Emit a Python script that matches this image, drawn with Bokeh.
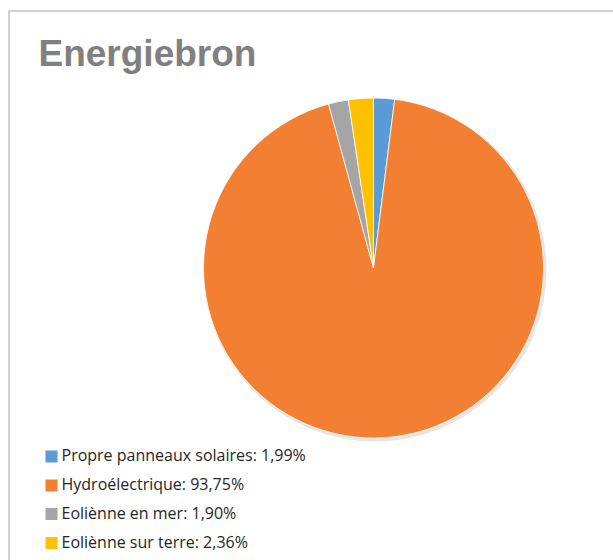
import math
from bokeh.plotting import figure
from bokeh.models import Range1d
from bokeh.core.properties import value
from bokeh.embed import file_html
from bokeh.resources import INLINE

title = "Energiebron"
categories = ["Propre panneaux solaires", "Hydro\u00e9lectrique", "Eoli\u00e8nne en mer", "Eoli\u00e8nne sur terre"]
values = [1.99, 93.75, 1.90, 2.36]
colors = ["#5B9BD5", "#F27F32", "#A5A5A5", "#FFC000"]

W, H = 613, 560
p = figure(width=W, height=H, output_backend="svg", toolbar_location=None,
           x_range=Range1d(0, W), y_range=Range1d(0, H), min_border=0)
p.axis.visible = False
p.grid.visible = False
p.outline_line_color = None
p.background_fill_color = "white"
p.border_fill_color = "white"

# chart border (right/bottom sides fall outside the window)
p.quad(left=8.5, right=W + 50, top=H - 10.5, bottom=-50, fill_color=None,
       line_color="#A0A0A0", line_width=1)

# pie
cx, cy, r = 373, H - 267.5, 170
total = sum(values)
starts, ends = [], []
a = math.pi / 2
for v in values:
    starts.append(a)
    a -= v / total * 2 * math.pi
    ends.append(a)

p.circle(x=cx + 1.5, y=cy - 2, radius=r + 1.5, radius_units="screen",
         fill_color="black", fill_alpha=0.10, line_color=None)
p.wedge(x=cx, y=cy, radius=r, radius_units="screen",
        start_angle=ends, end_angle=starts, direction="anticlock",
        fill_color=colors, line_color="white", line_width=0.8)

# title
p.text(x=[38], y=[H - 53], text=[title], text_font=value("Liberation Sans"),
       text_font_style="bold", text_font_size="37px", text_color="#808080",
       text_baseline="alphabetic", text_align="left")

# legend
row_y = [H - 456, H - 485, H - 513.5, H - 542.5]
labels = [f"{c}: {v:.2f}%".replace(".", ",") for c, v in zip(categories, values)]
p.rect(x=[51] * 4, y=row_y, width=12, height=12, width_units="screen",
       height_units="screen", fill_color=colors, line_color=None)
p.text(x=[61] * 4, y=[y + 1.5 for y in row_y], text=labels,
       text_font=value("Open Sans"), text_font_size="16px", text_color="#262626",
       text_baseline="alphabetic", text_align="left")

open("out.html", "w").write(file_html(p, INLINE))
